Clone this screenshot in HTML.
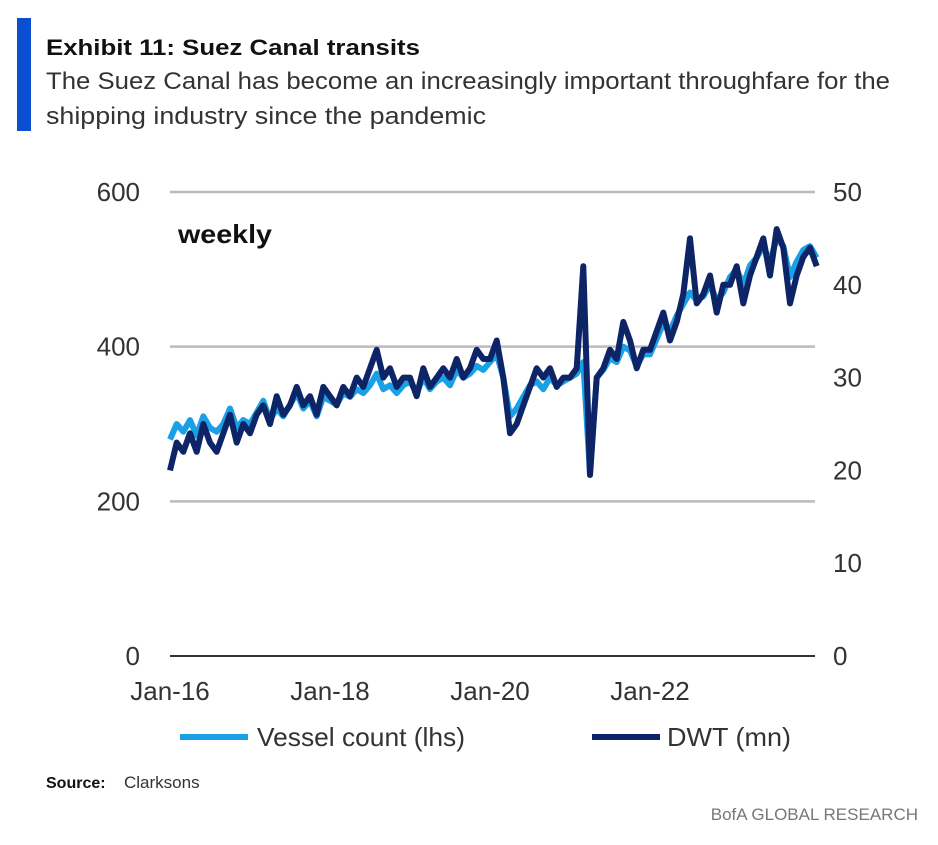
<!DOCTYPE html>
<html><head><meta charset="utf-8"><style>
body{margin:0;background:#fff;width:938px;height:840px;overflow:hidden;font-family:"Liberation Sans",sans-serif;}
</style></head><body>
<svg width="938" height="840" xmlns="http://www.w3.org/2000/svg" id="svg">
<rect x="17" y="18" width="14" height="113" fill="#0b4fd0"/>
<text x="46" y="55" font-size="22" font-weight="bold" fill="#111" textLength="374" lengthAdjust="spacingAndGlyphs">Exhibit 11: Suez Canal transits</text>
<text x="46" y="89" font-size="24" fill="#333" textLength="844" lengthAdjust="spacingAndGlyphs">The Suez Canal has become an increasingly important throughfare for the</text>
<text x="46" y="124" font-size="24" fill="#333" textLength="440" lengthAdjust="spacingAndGlyphs">shipping industry since the pandemic</text>
<g id="grid"></g>
<text x="178" y="243" font-size="26" font-weight="bold" fill="#111" textLength="94" lengthAdjust="spacingAndGlyphs">weekly</text>
<g id="series"></g>
<g id="axes"></g>
<line x1="180" y1="737" x2="248" y2="737" stroke="#1aa0e6" stroke-width="6"/>
<text x="257" y="746" font-size="26" fill="#333" textLength="208" lengthAdjust="spacingAndGlyphs">Vessel count (lhs)</text>
<line x1="592" y1="737" x2="660" y2="737" stroke="#0d2466" stroke-width="6"/>
<text x="667" y="746" font-size="26" fill="#333" textLength="124" lengthAdjust="spacingAndGlyphs">DWT (mn)</text>
<text x="46" y="788" font-size="16" font-weight="bold" fill="#111">Source:</text>
<text x="124" y="788" font-size="17" fill="#333">Clarksons</text>
<text x="918" y="820" font-size="17" fill="#777" text-anchor="end">BofA GLOBAL RESEARCH</text>
</svg>
<script>
const months = [];
for (let i = 0; i < 98; i++) months.push(i);
const vesselCount = [280,300,290,305,285,310,295,290,300,320,295,305,
300,315,330,305,320,310,325,340,320,330,310,335,
330,325,340,335,345,340,350,365,345,350,340,350,
355,340,360,345,355,360,350,370,360,365,375,370,
380,390,360,310,320,335,350,355,345,360,350,355,
360,365,380,235,360,370,385,380,400,395,375,390,
390,410,430,420,440,455,470,460,465,480,460,470,
490,500,480,505,515,530,510,540,530,490,510,525,
530,515];
const dwt = [20,23,22,24,22,25,23,22,24,26,23,25,
24,26,27,25,28,26,27,29,27,28,26,29,
28,27,29,28,30,29,31,33,30,31,29,30,
30,28,31,29,30,31,30,32,30,31,33,32,
32,34,30,24,25,27,29,31,30,31,29,30,
30,31,42,19.5,30,31,33,32,36,34,31,33,
33,35,37,34,36,39,45,38,39,41,37,40,
40,42,38,41,43,45,41,46,44,38,41,43,
44,42];
const leftTicks = [0,200,400,600];
const rightTicks = [0,10,20,30,40,50];
const xTickMonths = [0,24,48,72];
const xTickLabels = ["Jan-16","Jan-18","Jan-20","Jan-22"];
const x = m => 170 + m * 80 / 12;
const yL = v => 656 - v * (464 / 600);
const yR = v => 656 - v * (464 / 50);
const NS = "http://www.w3.org/2000/svg";
function mk(tag, attrs, parent, txt){const e=document.createElementNS(NS,tag);for(const k in attrs)e.setAttribute(k,attrs[k]);if(txt!==undefined)e.textContent=txt;document.getElementById(parent).appendChild(e);return e;}
leftTicks.forEach(v=>{
  if(v>0){const g=mk('line',{x1:170,x2:815,y1:yL(v),y2:yL(v),stroke:'#bbb','stroke-width':2.5},'grid');
  
  }
  const t=mk('text',{x:140,y:yL(v)+9,'font-size':26,fill:'#333','text-anchor':'end'},'axes',String(v));
  
  
});
rightTicks.forEach(v=>{
  const t=mk('text',{x:833,y:yR(v)+9,'font-size':26,fill:'#333'},'axes',String(v));
  
  
});
const base=mk('line',{x1:170,x2:815,y1:656,y2:656,stroke:'#333','stroke-width':2},'axes');


xTickMonths.forEach((m,i)=>{
  const t=mk('text',{x:x(m),y:700,'font-size':26,fill:'#333','text-anchor':'middle'},'axes',xTickLabels[i]);
  
  
});
const p1=mk('path',{d:vesselCount.map((v,i)=>(i?'L':'M')+x(months[i]).toFixed(1)+','+yL(v).toFixed(1)).join(''),fill:'none',stroke:'#1aa0e6','stroke-width':6,'stroke-linejoin':'round'},'series');


const p2=mk('path',{d:dwt.map((v,i)=>(i?'L':'M')+x(months[i]).toFixed(1)+','+yR(v).toFixed(1)).join(''),fill:'none',stroke:'#0d2466','stroke-width':6,'stroke-linejoin':'round'},'series');


</script>
</body></html>
